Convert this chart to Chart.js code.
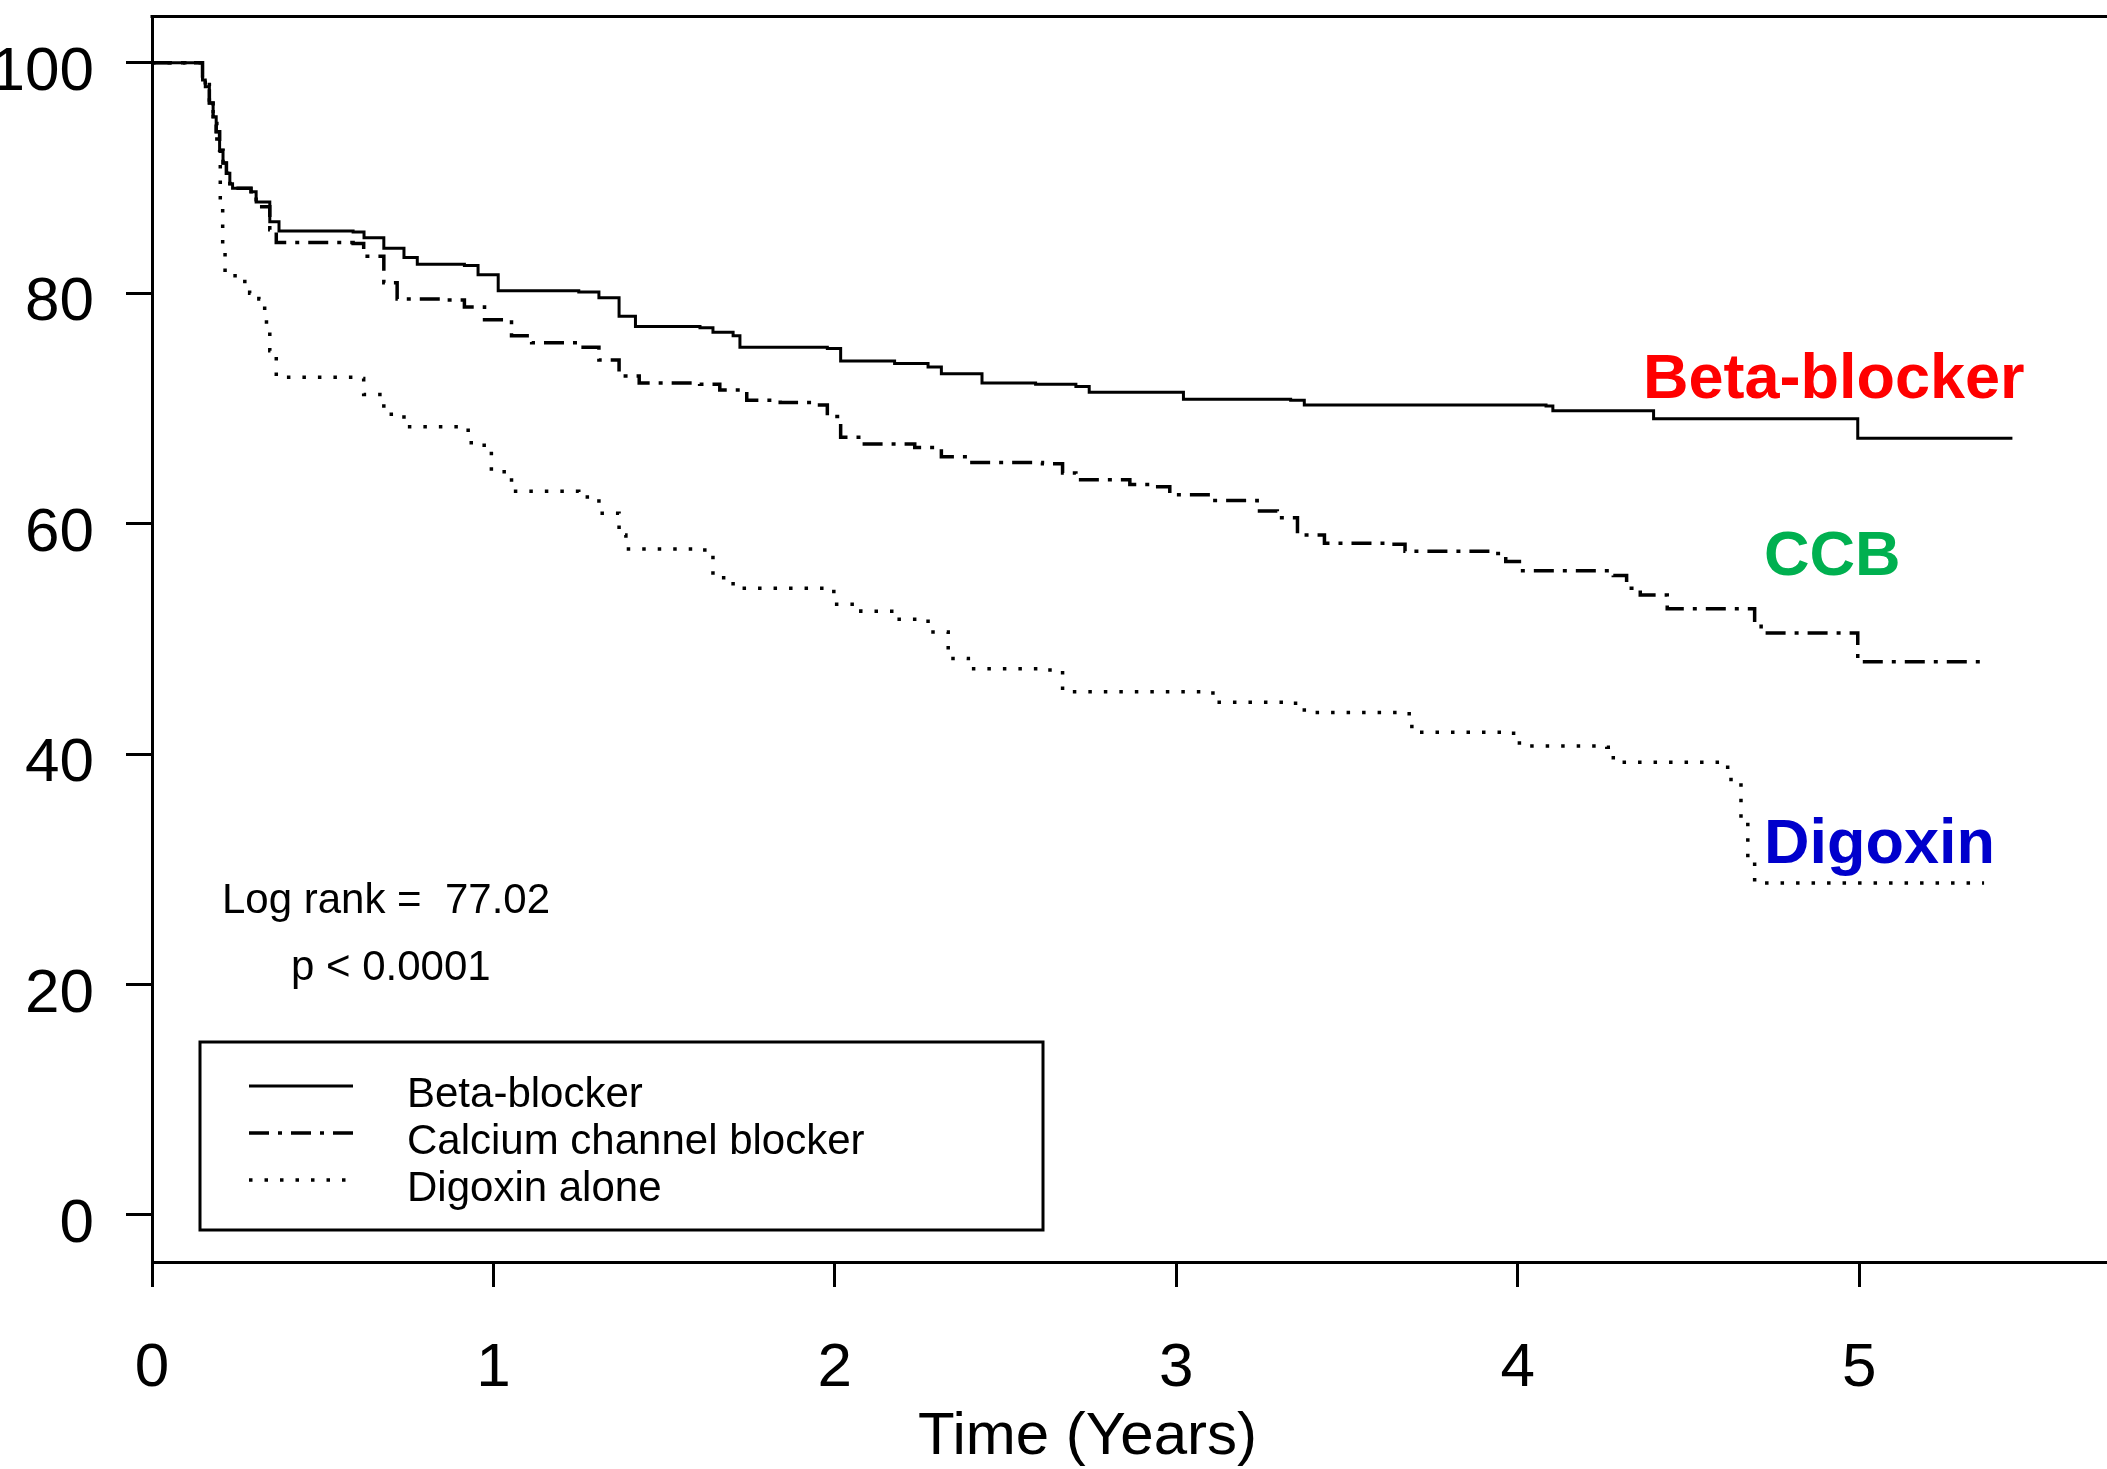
<!DOCTYPE html>
<html>
<head>
<meta charset="utf-8">
<title>Supervivencia por tratamiento</title>
<script src="https://cdn.jsdelivr.net/npm/chart.js@4.4.1/dist/chart.umd.min.js"></script>
<style>
  html, body { margin: 0; padding: 0; background: #fff; }
  #caja { width: 2107px; height: 1469px; }
</style>
</head>
<body>
<div id="caja"><canvas id="graficoSupervivencia" width="2107" height="1469"></canvas></div>
<script>
// series: time (years) and % surviving
const betaTimes = [0, 0.136, 0.148, 0.156, 0.168, 0.179, 0.188, 0.198, 0.208, 0.218, 0.228, 0.236, 0.29, 0.305, 0.345, 0.372, 0.589, 0.621, 0.679, 0.738, 0.777, 0.915, 0.955, 1.014, 1.25, 1.309, 1.368, 1.416, 1.605, 1.643, 1.702, 1.722, 1.978, 2.017, 2.175, 2.273, 2.312, 2.431, 2.588, 2.706, 2.745, 3.021, 3.335, 3.375, 4.083, 4.103, 4.398, 4.996, 5.449];
const betaSurv  = [100, 100, 98.5, 97.9, 96.5, 95.3, 94.0, 92.4, 91.3, 90.4, 89.5, 89.1, 88.8, 87.9, 86.2, 85.4, 85.3, 84.8, 83.9, 83.1, 82.5, 82.4, 81.6, 80.2, 80.1, 79.6, 78.0, 77.1, 77.0, 76.6, 76.3, 75.3, 75.2, 74.1, 73.9, 73.6, 73.0, 72.2, 72.1, 71.9, 71.4, 70.8, 70.7, 70.3, 70.2, 69.8, 69.1, 67.4, 67.4];

const ccbTimes = [0, 0.136, 0.148, 0.156, 0.168, 0.179, 0.188, 0.198, 0.208, 0.218, 0.228, 0.236, 0.29, 0.305, 0.345, 0.364, 0.589, 0.62, 0.679, 0.718, 0.856, 0.915, 0.974, 1.053, 1.112, 1.25, 1.309, 1.368, 1.427, 1.604, 1.663, 1.742, 1.84, 1.939, 1.978, 2.017, 2.076, 2.234, 2.312, 2.391, 2.608, 2.667, 2.706, 2.864, 2.922, 2.981, 3.099, 3.237, 3.296, 3.355, 3.434, 3.611, 3.67, 3.926, 3.965, 4.005, 4.28, 4.319, 4.359, 4.438, 4.694, 4.713, 4.996, 5.366];
const ccbSurv  = [100, 100, 98.5, 97.9, 96.5, 95.3, 94.0, 92.4, 91.3, 90.4, 89.5, 89.1, 88.8, 87.5, 85.5, 84.4, 84.3, 83.2, 80.9, 79.5, 79.4, 78.8, 77.7, 76.3, 75.7, 75.3, 74.2, 72.8, 72.2, 72.1, 71.6, 70.7, 70.5, 70.3, 69.3, 67.5, 66.9, 66.6, 65.8, 65.3, 65.2, 64.4, 63.8, 63.4, 63.2, 62.5, 62.0, 61.1, 60.5, 59.0, 58.3, 58.2, 57.6, 57.4, 56.7, 55.9, 55.5, 54.4, 53.8, 52.6, 51.4, 50.5, 48.0, 48.0];

const digTimes = [0, 0.136, 0.148, 0.168, 0.179, 0.19, 0.2, 0.207, 0.214, 0.266, 0.286, 0.313, 0.33, 0.345, 0.364, 0.589, 0.62, 0.679, 0.738, 0.915, 0.935, 0.994, 1.053, 1.25, 1.309, 1.368, 1.388, 1.604, 1.643, 1.702, 1.978, 1.997, 2.076, 2.175, 2.273, 2.332, 2.391, 2.608, 2.667, 3.099, 3.119, 3.335, 3.375, 3.65, 3.69, 3.966, 4.005, 4.261, 4.28, 4.595, 4.615, 4.654, 4.674, 4.694, 5.366];
const digSurv  = [100, 100, 98.5, 96.5, 95.0, 92.5, 88.0, 84.0, 81.5, 81.0, 80.0, 79.5, 77.5, 75.0, 72.7, 72.6, 71.2, 69.5, 68.4, 68.1, 66.8, 64.5, 62.8, 62.3, 60.9, 59.0, 57.8, 57.7, 55.3, 54.4, 54.3, 53.0, 52.4, 51.7, 50.6, 48.3, 47.4, 47.3, 45.4, 45.3, 44.5, 44.4, 43.6, 43.5, 41.9, 41.8, 40.7, 40.6, 39.3, 39.2, 37.8, 34.3, 30.8, 28.8, 28.8];

const seriesLabels = ['Beta-blocker', 'Calcium channel blocker', 'Digoxin alone'];
const curveTags = ['Beta-blocker', 'CCB', 'Digoxin'];
const tagColors = ['#FF0000', '#00B050', '#0000CC'];
const xTicks = [0, 1, 2, 3, 4, 5];
const yTicks = [0, 20, 40, 60, 80, 100];

const FAMILIA = "'Liberation Sans', Arial, Helvetica, sans-serif";
Chart.defaults.font.family = FAMILIA;
Chart.defaults.color = '#000';

function toPoints(ts, vs) {
    return ts.map((t, i) => ({ x: t, y: vs[i] }));
}

// no extra room for the end tick labels: the frame sits where the original has it
function sinRelleno(s) {
    s.paddingTop = 0;
    s.paddingBottom = 0;
    s.paddingLeft = 0;
    s.paddingRight = 0;
}

// top border of the frame and the x axis running on to the page edge
const marco = {
    id: 'marco',
    afterDraw(chart) {
        const { ctx, chartArea: a, width } = chart;
        ctx.save();
        ctx.strokeStyle = '#000';
        ctx.lineWidth = 3;
        ctx.beginPath();
        ctx.moveTo(a.left - 1.5, a.top + 0.5);
        ctx.lineTo(width, a.top + 0.5);
        ctx.moveTo(a.right, a.bottom + 0.5);
        ctx.lineTo(width, a.bottom + 0.5);
        ctx.stroke();
        ctx.restore();
    }
};

// statistics, coloured curve names and the boxed legend
const notas = {
    id: 'notas',
    afterDraw(chart) {
        const { ctx } = chart;
        ctx.save();
        ctx.textAlign = 'left';
        ctx.textBaseline = 'alphabetic';

        ctx.fillStyle = '#000';
        ctx.font = '42px ' + FAMILIA;
        ctx.fillText('Log rank =  77.02', 222, 913);
        ctx.fillText('p < 0.0001', 291, 980);

        const tagPos = [[1643, 398], [1764, 575], [1764, 863]];
        ctx.font = 'bold 63px ' + FAMILIA;
        curveTags.forEach((t, i) => {
            ctx.fillStyle = tagColors[i];
            ctx.fillText(t, tagPos[i][0], tagPos[i][1]);
        });

        // legend box
        ctx.strokeStyle = '#000';
        ctx.lineWidth = 3;
        ctx.strokeRect(200, 1042, 843, 188);
        const rowY = [1086, 1133, 1180];
        chart.data.datasets.forEach((ds, i) => {
            ctx.beginPath();
            ctx.setLineDash(ds.borderDash || []);
            ctx.lineWidth = ds.borderWidth;
            ctx.moveTo(249, rowY[i]);
            ctx.lineTo(353, rowY[i]);
            ctx.stroke();
            ctx.setLineDash([]);
            ctx.fillStyle = '#000';
            ctx.font = '42px ' + FAMILIA;
            ctx.fillText(ds.label, 407, rowY[i] + 21);
        });
        ctx.restore();
    }
};

const lienzo = document.getElementById('graficoSupervivencia');

new Chart(lienzo, {
    type: 'line',
    data: {
        datasets: [{
            label: seriesLabels[0],
            data: toPoints(betaTimes, betaSurv),
            borderColor: '#000',
            borderWidth: 3,
            borderDash: [],
            stepped: 'before',
            pointRadius: 0,
            fill: false
        }, {
            label: seriesLabels[1],
            data: toPoints(ccbTimes, ccbSurv),
            borderColor: '#000',
            borderWidth: 3.5,
            borderDash: [20, 9, 4, 9],
            stepped: 'before',
            pointRadius: 0,
            fill: false
        }, {
            label: seriesLabels[2],
            data: toPoints(digTimes, digSurv),
            borderColor: '#000',
            borderWidth: 3.5,
            borderDash: [3.5, 12],
            stepped: 'before',
            pointRadius: 0,
            fill: false
        }]
    },
    options: {
        responsive: false,
        animation: false,
        devicePixelRatio: 1,
        layout: { padding: { top: 16, right: 84, bottom: 0, left: 0 } },
        plugins: {
            legend: { display: false },
            tooltip: { enabled: false }
        },
        scales: {
            x: {
                type: 'linear',
                min: 0,
                max: 5.48,
                afterFit: function (s) { s.height = 207; sinRelleno(s); },
                afterBuildTicks: function (s) { s.ticks = xTicks.map(v => ({ value: v })); },
                grid: {
                    display: true,
                    drawOnChartArea: false,
                    drawTicks: true,
                    tickLength: 25,
                    tickWidth: 3,
                    tickColor: '#000'
                },
                border: { display: true, color: '#000', width: 3 },
                ticks: {
                    font: { size: 62 },
                    color: '#000',
                    padding: 45,
                    maxRotation: 0,
                    autoSkip: false
                },
                title: {
                    display: true,
                    text: 'Time (Years)',
                    font: { size: 60 },
                    color: '#000',
                    padding: { top: 0, bottom: -4 }
                }
            },
            y: {
                type: 'linear',
                min: -4.08,
                max: 104.05,
                afterFit: function (s) { s.width = 152; sinRelleno(s); },
                afterBuildTicks: function (s) { s.ticks = yTicks.map(v => ({ value: v })); },
                grid: {
                    display: true,
                    drawOnChartArea: false,
                    drawTicks: true,
                    tickLength: 26,
                    tickWidth: 3,
                    tickColor: '#000'
                },
                border: { display: true, color: '#000', width: 3 },
                ticks: {
                    font: { size: 62 },
                    color: '#000',
                    padding: 32,
                    labelOffset: 10
                }
            }
        }
    },
    plugins: [marco, notas]
});
</script>
</body>
</html>
